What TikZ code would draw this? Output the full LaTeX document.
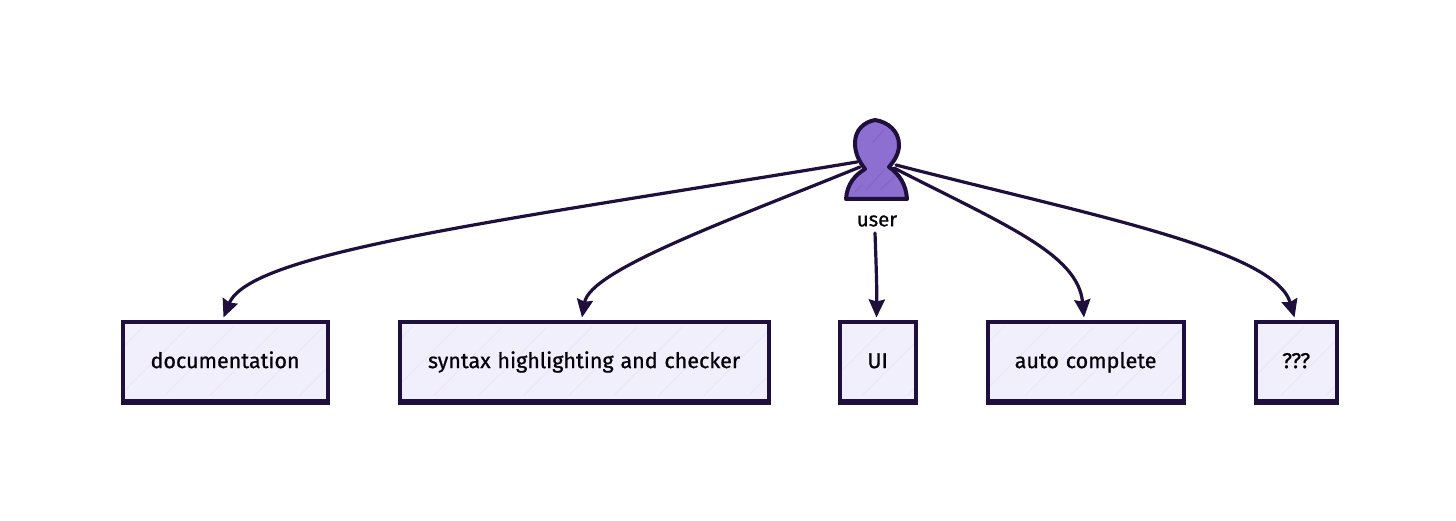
\documentclass[tikz,border=0pt]{standalone}
\usepackage{fontspec}
\setmainfont[RawFeature={embolden=0.9},WordSpace=1.2]{Fira Sans}
\usetikzlibrary{arrows.meta,calc}
\definecolor{ink}{HTML}{1E0F3C}
\definecolor{boxfill}{HTML}{F2EFFD}
\definecolor{hatchc}{HTML}{EAE6F9}
\definecolor{userfill}{HTML}{8D6FD1}
\definecolor{userhatch}{HTML}{8365CA}
\tikzset{
  x=1pt,y=-1pt,
  boxnode/.style={draw=ink,fill=boxfill,line width=4.2pt,minimum height=79pt,inner sep=0pt,
    font=\fontsize{21.5}{24}\selectfont,text=black!85!ink,anchor=north west,
    text height=17pt,text depth=3pt,
    path picture={
      \foreach \k in {-330,-285,...,330}{
        \draw[hatchc,line width=1pt,line cap=round]
          ([xshift=\k pt,yshift=-34pt]path picture bounding box.center) --
          ([xshift=\k pt+68pt,yshift=34pt]path picture bounding box.center);
      }
    },
    append after command={
      ([shift={(0,1)}]\tikzlastnode.south west) edge[draw=ink,line width=3pt] ([shift={(0,1)}]\tikzlastnode.south east)
    }},
  conn/.style={draw=ink,line width=3.2pt,line cap=round,-{Stealth[length=18pt,width=16pt,inset=2pt]}},
  labeltext/.style={font=\fontsize{20.3}{22}\selectfont,text=black!85!ink,inner sep=0pt}
}
\begin{document}
\begin{tikzpicture}
\useasboundingbox (0,0) rectangle (1456,521);
\node[boxnode,minimum width=205pt] (doc) at (120.5,319.5) {documentation};
\node[boxnode,minimum width=369pt] (syn) at (397.5,319.5) {syntax highlighting and checker};
\node[boxnode,minimum width=76pt] (ui) at (837.5,319.5) {UI};
\node[boxnode,minimum width=196pt] (auto) at (985.5,319.5) {auto complete};
\node[boxnode,minimum width=81pt] (qqq) at (1253.5,319.5) {???};
% user figure
\path[fill=userfill,draw=none]
  (846,199) .. controls (847,184) and (855,175) .. (865,169)
  .. controls (858,160) and (855,152) .. (855,143)
  .. controls (855,130) and (864,122) .. (875,120)
  .. controls (888,122) and (899,131) .. (899,145)
  .. controls (899,153) and (895,160) .. (889,167)
  .. controls (899,174) and (906,184) .. (907,199) -- cycle;
\draw[userhatch,line width=1pt,line cap=round] (866,190) -- (884,170);
\draw[userhatch,line width=1pt,line cap=round] (872,143) -- (884,130);
\draw[userhatch,line width=1pt,line cap=round] (880,190) -- (895,176);
\draw[userhatch,line width=1pt,line cap=round] (855,192) -- (862,185);
\draw[ink,line width=4pt,line join=round]
  (846,199) .. controls (847,184) and (855,175) .. (865,169)
  .. controls (858,160) and (855,152) .. (855,143)
  .. controls (855,130) and (864,122) .. (875,120)
  .. controls (888,122) and (899,131) .. (899,145)
  .. controls (899,153) and (895,160) .. (889,167)
  .. controls (899,174) and (906,184) .. (907,199) -- cycle;
\node[labeltext] (user) at (877,221) {user};
\coordinate (p1) at (857,162);
\coordinate (p2) at (860,167);
\coordinate (p3) at (875,233);
\coordinate (p4) at (894,168);
\coordinate (p5) at (896,165);
\coordinate (e1) at ($(doc.north west)+(103,-2)$);
\coordinate (e2) at ($(syn.north west)+(184.5,-2)$);
\coordinate (e3) at ($(ui.north west)+(39,-2)$);
\coordinate (e4) at ($(auto.north west)+(98.5,-2)$);
\coordinate (e5) at ($(qqq.north west)+(41,-2)$);
\draw[conn] (p1) .. controls (500,221) and (250,252) .. (e1);
\draw[conn] (p2) .. controls (730,220) and (590,270) .. (e2);
\draw[conn] (p3) .. controls (876,260) and (877,290) .. (e3);
\draw[conn] (p4) .. controls (1005,225) and (1078,254) .. (e4);
\draw[conn] (p5) .. controls (1090,215) and (1275,250) .. (e5);
\end{tikzpicture}
\end{document}
